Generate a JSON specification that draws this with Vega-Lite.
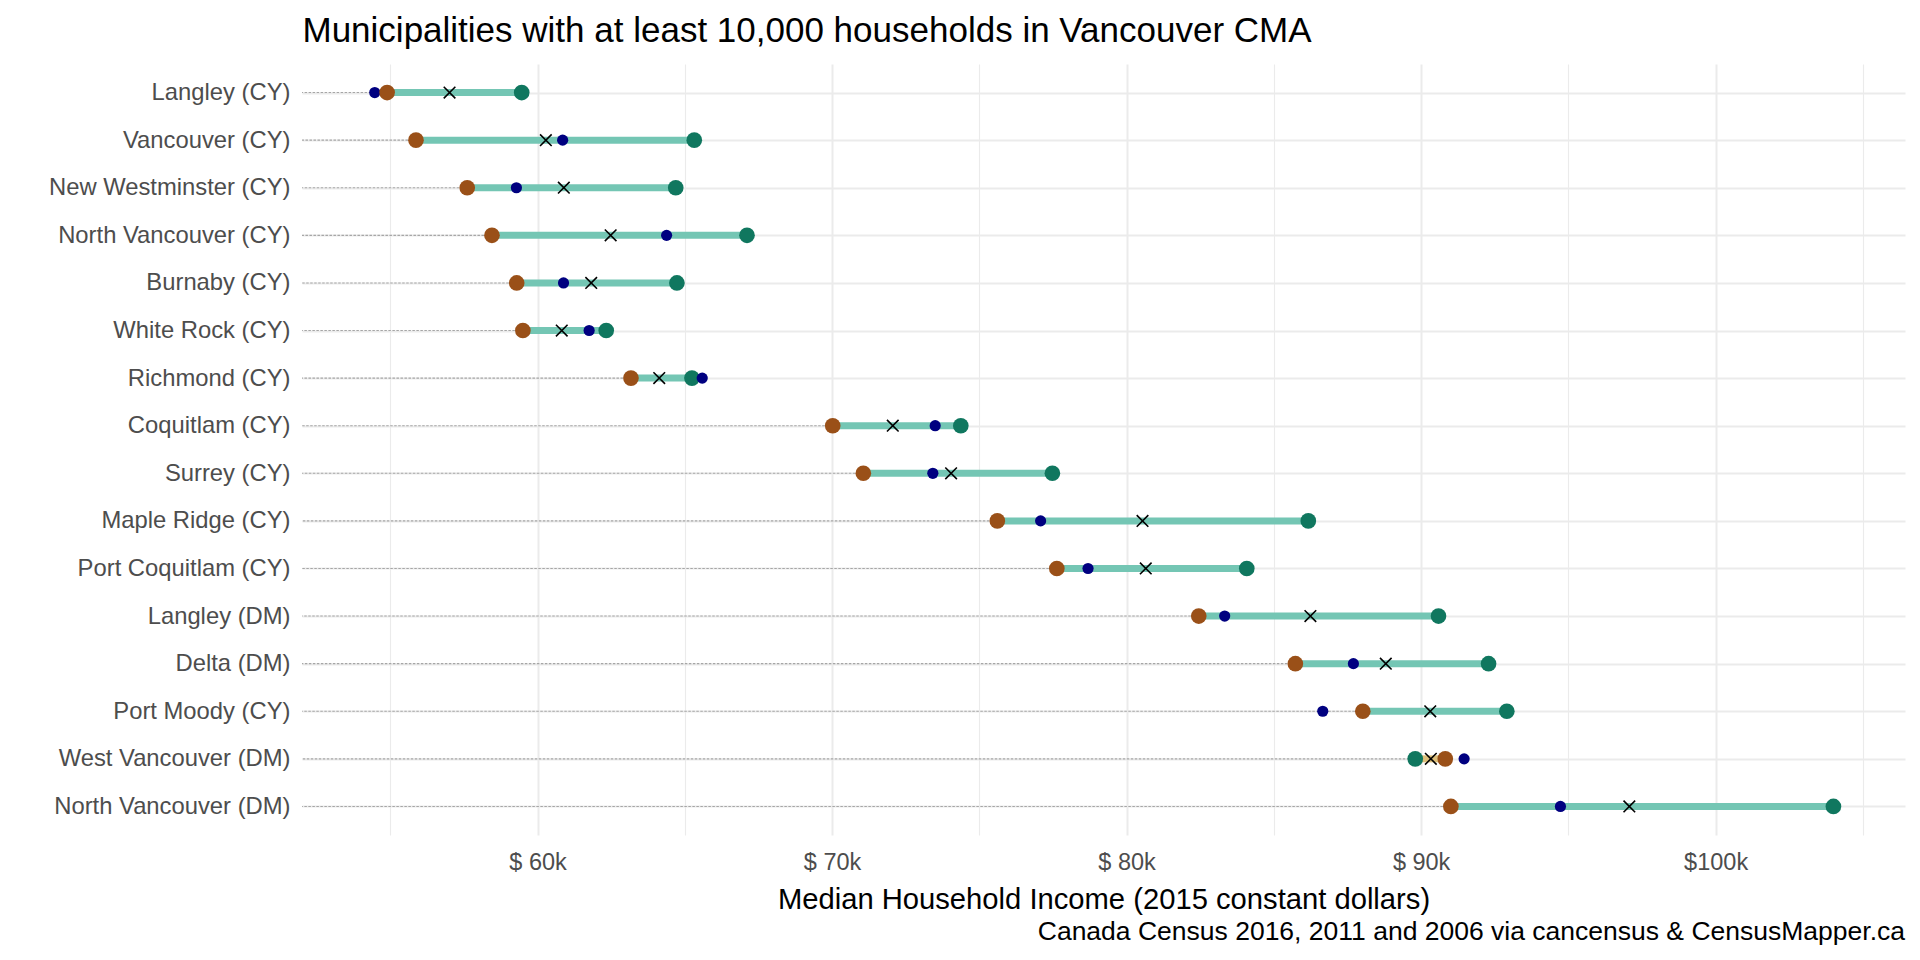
{
  "$schema": "https://vega.github.io/schema/vega-lite/v6.json",
  "autosize": {"type": "none"},
  "width": 1603,
  "height": 771,
  "padding": {"left": 302, "top": 64, "right": 15, "bottom": 125},
  "background": "white",
  "config": {
    "view": {"stroke": null},
    "font": "Liberation Sans",
    "axis": {"labelFont": "Liberation Sans", "titleFont": "Liberation Sans"}
  },
  "title": {
    "text": "Canada Census 2016, 2011 and 2006 via cancensus & CensusMapper.ca",
    "orient": "bottom",
    "anchor": "end",
    "frame": "group",
    "fontSize": 26.5,
    "fontWeight": "normal",
    "color": "black",
    "offset": 4
  },
  "data": {
    "values": [
      {"name": "Langley (CY)", "y2006": 54890, "y2011_nhs": 54470, "y2011_interp": 57010, "y2016": 59460},
      {"name": "Vancouver (CY)", "y2006": 55870, "y2011_nhs": 60850, "y2011_interp": 60280, "y2016": 65320},
      {"name": "New Westminster (CY)", "y2006": 57610, "y2011_nhs": 59280, "y2011_interp": 60890, "y2016": 64690},
      {"name": "North Vancouver (CY)", "y2006": 58450, "y2011_nhs": 64380, "y2011_interp": 62480, "y2016": 67110},
      {"name": "Burnaby (CY)", "y2006": 59290, "y2011_nhs": 60880, "y2011_interp": 61820, "y2016": 64730},
      {"name": "White Rock (CY)", "y2006": 59500, "y2011_nhs": 61750, "y2011_interp": 60820, "y2016": 62330},
      {"name": "Richmond (CY)", "y2006": 63170, "y2011_nhs": 65590, "y2011_interp": 64130, "y2016": 65240},
      {"name": "Coquitlam (CY)", "y2006": 70020, "y2011_nhs": 73500, "y2011_interp": 72060, "y2016": 74370},
      {"name": "Surrey (CY)", "y2006": 71060, "y2011_nhs": 73420, "y2011_interp": 74040, "y2016": 77480},
      {"name": "Maple Ridge (CY)", "y2006": 75610, "y2011_nhs": 77080, "y2011_interp": 80540, "y2016": 86170},
      {"name": "Port Coquitlam (CY)", "y2006": 77630, "y2011_nhs": 78690, "y2011_interp": 80650, "y2016": 84080},
      {"name": "Langley (DM)", "y2006": 82450, "y2011_nhs": 83330, "y2011_interp": 86240, "y2016": 90590},
      {"name": "Delta (DM)", "y2006": 85730, "y2011_nhs": 87700, "y2011_interp": 88800, "y2016": 92290},
      {"name": "Port Moody (CY)", "y2006": 88020, "y2011_nhs": 86660, "y2011_interp": 90310, "y2016": 92910},
      {"name": "West Vancouver (DM)", "y2006": 90820, "y2011_nhs": 91460, "y2011_interp": 90330, "y2016": 89800},
      {"name": "North Vancouver (DM)", "y2006": 91010, "y2011_nhs": 94730, "y2011_interp": 97070, "y2016": 104000}
    ]
  },
  "resolve": {"axis": {"x": "independent"}},
  "layer": [
    {
      "mark": {"type": "rule", "color": "#A6A6A6", "strokeWidth": 1.1, "strokeDash": [2.5, 1.5]},
      "encoding": {
        "y": {
          "field": "name", "type": "nominal", "sort": null,
          "scale": {"type": "point", "padding": 0.6},
          "axis": {
            "title": null, "domain": false, "ticks": false, "tickSize": 0,
            "labelPadding": 12, "labelFontSize": 23.8, "labelColor": "#4D4D4D", "labelLimit": 0,
            "grid": true, "gridColor": "#EBEBEB", "gridWidth": 2.2
          }
        },
        "x": {
          "field": "y2006", "type": "quantitative",
          "scale": {"domain": [52000, 106430], "nice": false, "zero": false},
          "axis": {
            "orient": "bottom",
            "values": [60000, 70000, 80000, 90000, 100000],
            "labelExpr": "datum.value >= 100000 ? '$' + (datum.value/1000) + 'k' : '$ ' + (datum.value/1000) + 'k'",
            "domain": false, "ticks": false, "tickSize": 0,
            "labelPadding": 15, "labelFontSize": 23.5, "labelColor": "#4D4D4D",
            "grid": true, "gridColor": "#EBEBEB", "gridWidth": 2,
            "title": "Median Household Income (2015 constant dollars)",
            "titleFontSize": 29.2, "titleFontWeight": "normal", "titleColor": "black", "titlePadding": 12
          }
        },
        "x2": {"datum": 52000}
      }
    },
    {
      "mark": {"type": "rule", "strokeWidth": 7, "strokeCap": "butt"},
      "encoding": {
        "y": {"field": "name", "type": "nominal", "sort": null},
        "x": {
          "field": "y2006", "type": "quantitative",
          "axis": {
            "orient": "top",
            "values": [55000, 65000, 75000, 85000, 95000, 105000],
            "labels": false, "domain": false, "ticks": false, "tickSize": 0,
            "grid": true, "gridColor": "#EBEBEB", "gridWidth": 1.1,
            "title": "Municipalities with at least 10,000 households in Vancouver CMA",
            "titleAnchor": "start", "titleAlign": "left",
            "titleFontSize": 35, "titleFontWeight": "normal", "titleColor": "black", "titlePadding": 16
          }
        },
        "x2": {"field": "y2016"},
        "color": {"condition": {"test": "datum.y2016 < datum.y2006", "value": "#DDBF7A"}, "value": "#74C6B4"}
      }
    },
    {
      "mark": {"type": "point", "filled": true, "opacity": 1, "color": "#10775F", "size": 245},
      "encoding": {
        "y": {"field": "name", "type": "nominal", "sort": null},
        "x": {"field": "y2016", "type": "quantitative", "axis": null}
      }
    },
    {
      "mark": {"type": "point", "filled": true, "opacity": 1, "color": "#000080", "size": 125},
      "encoding": {
        "y": {"field": "name", "type": "nominal", "sort": null},
        "x": {"field": "y2011_nhs", "type": "quantitative", "axis": null}
      }
    },
    {
      "mark": {"type": "point", "filled": true, "opacity": 1, "color": "#9A5018", "size": 245},
      "encoding": {
        "y": {"field": "name", "type": "nominal", "sort": null},
        "x": {"field": "y2006", "type": "quantitative", "axis": null}
      }
    },
    {
      "mark": {"type": "point", "filled": false, "opacity": 1, "color": "black", "strokeWidth": 1.6, "size": 135, "shape": "M-1,-1L1,1M-1,1L1,-1"},
      "encoding": {
        "y": {"field": "name", "type": "nominal", "sort": null},
        "x": {"field": "y2011_interp", "type": "quantitative", "axis": null}
      }
    }
  ]
}
